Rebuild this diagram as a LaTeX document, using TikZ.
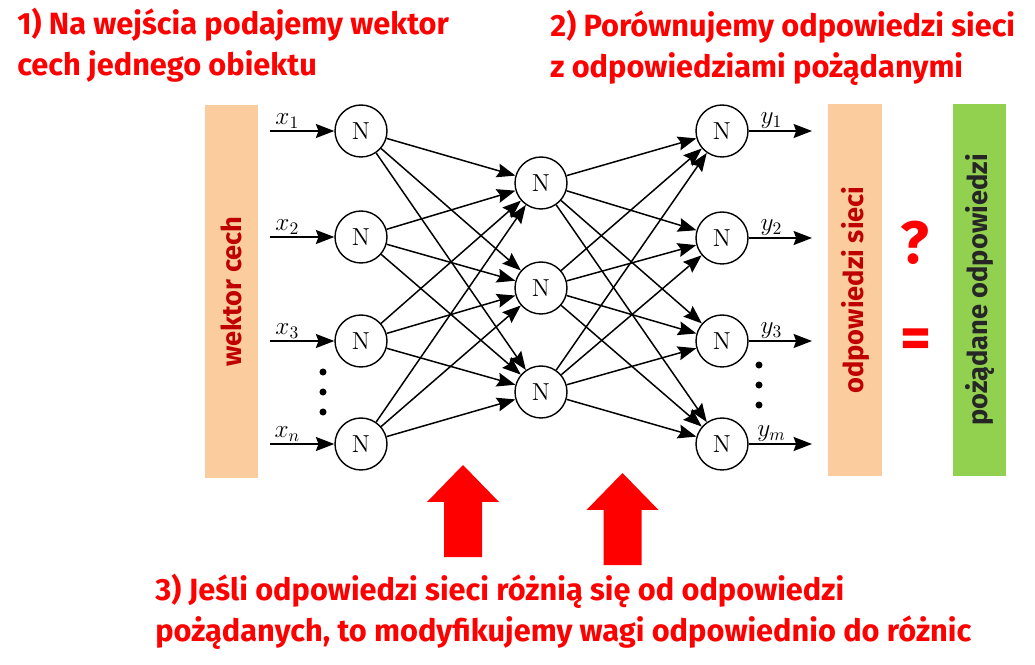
\documentclass[tikz,border=0pt]{standalone}
\usepackage{fontspec}
\newfontfamily\firafont{Fira Sans}
\usepackage{tikz}
\usetikzlibrary{positioning, arrows.meta}
\definecolor{peach}{RGB}{251,204,158}
\definecolor{leafgreen}{RGB}{146,208,80}
\definecolor{darkred}{RGB}{192,0,0}
\definecolor{signalred}{RGB}{255,0,0}

\begin{document}
\begin{tikzpicture}[x=0.02cm, y=-0.02cm,
  neuron/.style={circle, draw, line width=0.8pt, minimum size=1.04cm,
    inner sep=0pt, font=\fontsize{14}{14}\selectfont},
  link/.style={-{Stealth[length=10.5pt, width=8pt, inset=1.5pt]}, line width=0.85pt},
  siglabel/.style={above, inner sep=1pt, font=\fontsize{14}{14}\selectfont},
  heading/.style={anchor=north west, inner sep=0pt, align=left, text=signalred,
    font=\firafont\bfseries\fontsize{17.5}{23}\selectfont},
  bar/.style={rotate=90, minimum width=7.46cm, minimum height=1.07cm,
    inner sep=0pt, font=\firafont\bfseries\fontsize{15.5}{18}\selectfont},
  bigsign/.style={text=signalred, inner sep=0pt,
    font=\firafont\bfseries\fontsize{34}{34}\selectfont}
]
  \useasboundingbox (0,0) rectangle (1035,665);

  % teksty
  \node[heading] (step1) at (17,8) {1) Na wejścia podajemy wektor\\cech jednego obiektu};
  \node[heading] (step2) at (550,10) {2) Porównujemy odpowiedzi sieci\\z odpowiedziami pożądanymi};
  \node[heading] (step3) at (155,574) {3) Jeśli odpowiedzi sieci różnią się od odpowiedzi\\pożądanych, to modyfikujemy wagi odpowiednio do różnic};

  % paski
  \node[bar, fill=peach, text=darkred] (features) at (231.5,291.5) {wektor cech};
  \node[bar, fill=peach, text=darkred] (netout) at (855,290) {odpowiedzi sieci};
  \node[bar, fill=leafgreen, text=black!85] (target) at (979.5,290) {pożądane odpowiedzi};
  \node[bigsign] (ask) at (915,243) {?};
  \node[bigsign] (eq) at (916,344) {=};

  % neurony
  \foreach \y [count=\i] in {131,237,341,444}
    \node[neuron] (in\i) at (361,\y) {N};
  \foreach \y [count=\i] in {183,288,392}
    \node[neuron] (hid\i) at (541,\y) {N};
  \foreach \y [count=\i] in {131,238,341,444}
    \node[neuron] (out\i) at (722,\y) {N};

  % wejscia i wyjscia
  \foreach \y/\lab [count=\i] in {131/1,237/2,341/3,444/n} {
    \coordinate (xin\i) at (270,\y);
    \draw[link] (xin\i) -- node[siglabel, pos=0.27] {$x_\lab$} (in\i);
  }
  \foreach \y/\lab [count=\i] in {131/1,238/2,341/3,444/m} {
    \coordinate (yout\i) at (812,\y);
    \draw[link] (out\i) -- node[siglabel, pos=0.36] {$y_\lab$} (yout\i);
  }

  % polaczenia
  \foreach \i in {1,...,4}
    \foreach \j in {1,2,3}
      \draw[link] (in\i) -- (hid\j);
  \foreach \j in {1,2,3}
    \foreach \k in {1,...,4}
      \draw[link] (hid\j) -- (out\k);

  % kropki
  \foreach \y in {372,392,412}
    \fill (323,\y) circle (2pt);
  \foreach \y in {365,385,405}
    \fill (759,\y) circle (2pt);

  % strzalki korekty
  \foreach \x/\y in {463/465, 622.5/473}
    \fill[signalred] (\x,\y) -- ++(36,37) -- ++(-17,0) -- ++(0,55) -- ++(-38,0)
      -- ++(0,-55) -- ++(-17,0) -- cycle;
\end{tikzpicture}
\end{document}
